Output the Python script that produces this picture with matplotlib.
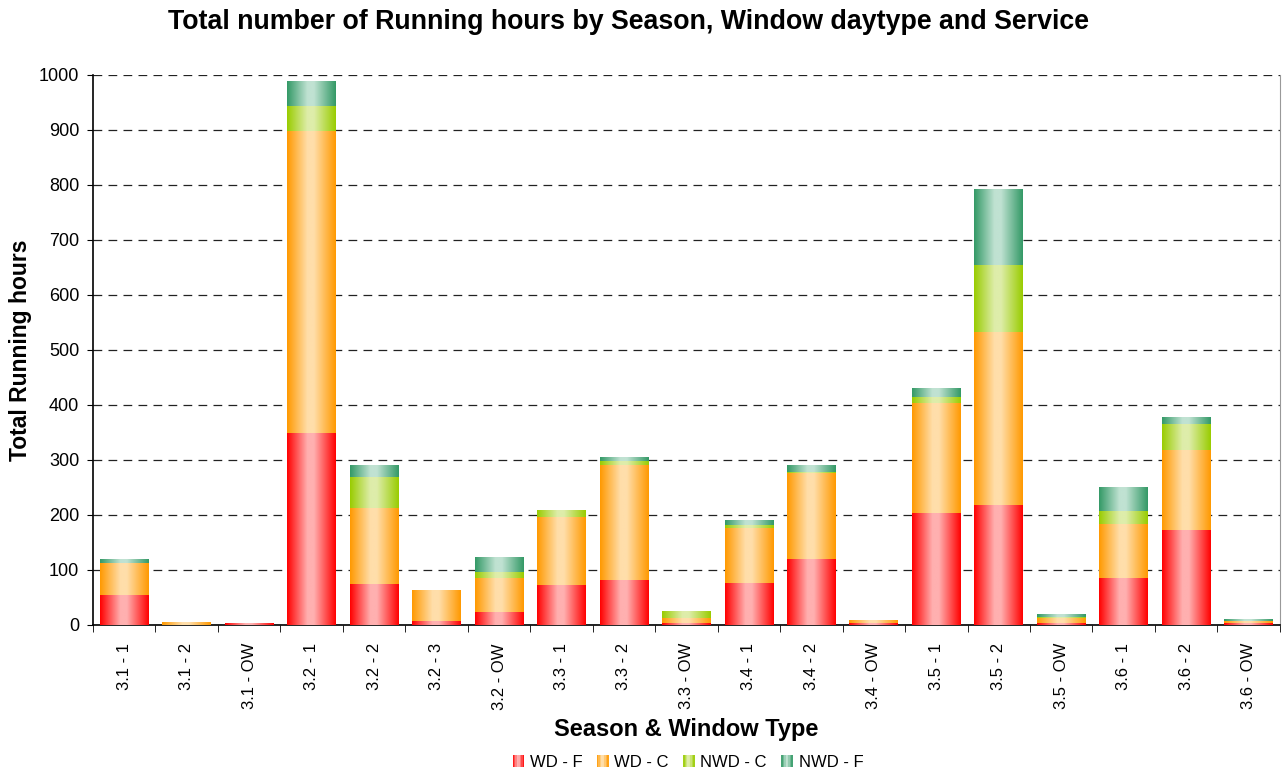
import matplotlib
matplotlib.use("Agg")
import matplotlib.pyplot as plt
import numpy as np
from matplotlib.colors import LinearSegmentedColormap
from matplotlib.legend_handler import HandlerBase
from matplotlib.patches import Rectangle

plt.rcParams['font.family'] = ['Liberation Sans', 'DejaVu Sans']

categories = ["3.1 - 1", "3.1 - 2", "3.1 - OW", "3.2 - 1", "3.2 - 2", "3.2 - 3", "3.2 - OW",
              "3.3 - 1", "3.3 - 2", "3.3 - OW", "3.4 - 1", "3.4 - 2", "3.4 - OW",
              "3.5 - 1", "3.5 - 2", "3.5 - OW", "3.6 - 1", "3.6 - 2", "3.6 - OW"]
wd_f = [55, 0, 2, 349, 75, 7, 24, 73, 82, 3, 76, 120, 4, 204, 218, 3, 85, 173, 3]
wd_c = [57, 4, 0, 549, 138, 55, 62, 123, 208, 10, 101, 157, 4, 200, 315, 9, 99, 145, 4]
nwd_c = [0, 0, 0, 46, 56, 0, 10, 11, 8, 12, 5, 2, 0, 11, 121, 2, 23, 47, 1]
nwd_f = [6, 0, 0, 45, 20, 0, 26, 0, 7, 0, 9, 12, 0, 16, 137, 4, 42, 11, 3]
series_names = ["WD - F", "WD - C", "NWD - C", "NWD - F"]

# edge colour, light centre colour
shades = [("#ff0000", "#ffb0b0"),
          ("#ff9900", "#ffdeaa"),
          ("#99cc00", "#deedaa"),
          ("#339966", "#c0e2d2")]


def make_cmap(edge, light):
    return LinearSegmentedColormap.from_list("g", [(0, edge), (0.42, light), (0.55, light), (1, edge)])


class GradHandler(HandlerBase):
    def __init__(self, cmap):
        HandlerBase.__init__(self)
        self.cmap = cmap

    def create_artists(self, legend, orig_handle, xdescent, ydescent, width, height, fontsize, trans):
        arts = []
        n = 8
        s = height * 0.9
        x0 = -xdescent + (width - s) / 2
        y0 = -ydescent + (height - s) / 2
        for k in range(n):
            r = Rectangle((x0 + k * s / n, y0), s / n + 0.1, s, facecolor=self.cmap((k + 0.5) / n),
                          edgecolor="none", transform=trans)
            arts.append(r)
        return arts


fig = plt.figure(figsize=(12.85, 7.76), dpi=100)
ax = fig.add_axes([0.0724, 0.1946, 0.9236, 0.7088])

x = np.arange(len(categories))
width = 0.78
bottom = np.zeros(len(categories))
handles = []
handler_map = {}
grad = np.linspace(0, 1, 256).reshape(1, -1)
for vals, name, (edge, light) in zip([wd_f, wd_c, nwd_c, nwd_f], series_names, shades):
    cmap = make_cmap(edge, light)
    bars = ax.bar(x, vals, width, bottom=bottom, color="none", edgecolor="none", label=name, zorder=3)
    for b in bars:
        if b.get_height() <= 0:
            continue
        bx, by = b.get_x(), b.get_y()
        ax.imshow(grad, cmap=cmap, extent=[bx, bx + b.get_width(), by, by + b.get_height()],
                  aspect="auto", zorder=3, interpolation="bilinear")
    bottom = bottom + np.array(vals)
    h = Rectangle((0, 0), 1, 1)
    handles.append(h)
    handler_map[h] = GradHandler(cmap)

ax.set_xlim(-0.5, len(categories) - 0.5)
ax.set_ylim(0, 1000)
ax.set_yticks(np.arange(0, 1001, 100))
ax.yaxis.grid(True, color="#222222", linestyle=(0, (7, 5)), linewidth=0.9, zorder=0)
ax.set_axisbelow(True)

ax.set_xticks(x)
ax.set_xticklabels(categories, rotation=90, fontsize=12)
ax.set_xticks(np.arange(-0.5, len(categories), 1), minor=True)
ax.tick_params(axis="x", which="major", length=0, pad=13)
ax.tick_params(axis="x", which="minor", length=5, direction="out")
ax.tick_params(axis="y", labelsize=13, length=4, pad=6)

ax.spines["top"].set_visible(False)
ax.spines["right"].set_color("#999999")
ax.spines["left"].set_linewidth(1.2)
ax.spines["bottom"].set_linewidth(1.2)

ax.set_ylabel("Total Running hours", fontsize=16.5, fontweight="bold", labelpad=5)
ax.set_xlabel("Season & Window Type", fontsize=17, fontweight="bold", labelpad=6)
fig.text(0.489, 0.972, "Total number of Running hours by Season, Window daytype and Service",
         ha="center", va="center", fontsize=19.3, fontweight="bold")

fig.legend(handles, series_names, handler_map=handler_map, loc="center", bbox_to_anchor=(0.535, 0.018),
           ncol=4, frameon=False, fontsize=12, handlelength=0.8, handletextpad=0.3, columnspacing=0.8,
           handleheight=0.8)

fig.savefig("out.png", dpi=100)
